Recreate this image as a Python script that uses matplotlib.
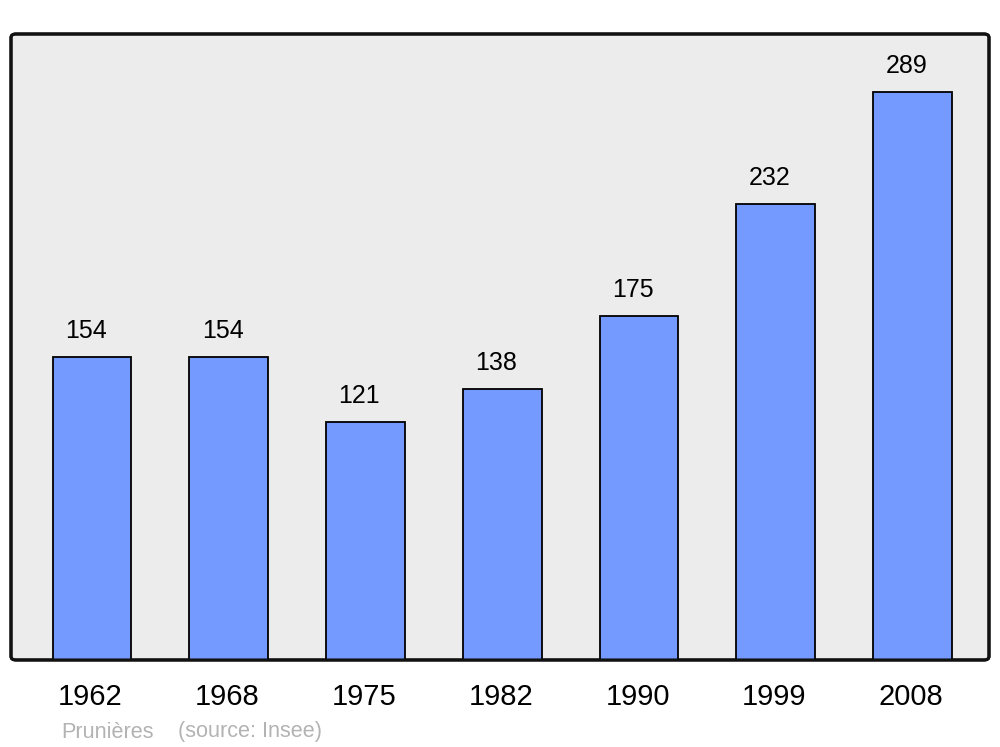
import matplotlib
matplotlib.use("Agg")
import matplotlib.pyplot as plt
from matplotlib.patches import FancyBboxPatch

years = ["1962", "1968", "1975", "1982", "1990", "1999", "2008"]
population = [154, 154, 121, 138, 175, 232, 289]
commune = "Prunières"
source = "(source: Insee)"

plt.rcParams['font.family'] = ['Liberation Sans', 'DejaVu Sans']

fig = plt.figure(figsize=(10, 7.47), dpi=100)
ax = fig.add_axes([0.011, 0.1165, 0.978, 0.838])
ax.set_facecolor('none')

x = list(range(len(years)))
ax.bar(x, population, width=0.575, color='#7499ff', edgecolor='black',
       linewidth=1.3, zorder=3)

for xi, v in zip(x, population):
    ax.text(xi - 0.045, v + 13.2, str(v), ha='center', va='center',
            fontsize=18, color='black', zorder=4)

ax.set_xlim(-0.592, 6.559)
ax.set_ylim(0, 318.6)
ax.set_xticks([xi - 0.01 for xi in x])
ax.set_xticklabels(years, fontsize=21)
ax.tick_params(axis='x', length=0, pad=16.5)
ax.set_yticks([])
for s in ax.spines.values():
    s.set_visible(False)

frame = FancyBboxPatch((0, 0), 1, 1, boxstyle="round,pad=0,rounding_size=0.005",
                       transform=ax.transAxes, facecolor='#ececec',
                       edgecolor='#111111', linewidth=2.2, zorder=0,
                       mutation_aspect=1.17, clip_on=False)
ax.add_patch(frame)
frame2 = FancyBboxPatch((0, 0), 1, 1, boxstyle="round,pad=0,rounding_size=0.005",
                        transform=ax.transAxes, facecolor='none',
                        edgecolor='#111111', linewidth=2.2, zorder=5,
                        mutation_aspect=1.17, clip_on=False)
ax.add_patch(frame2)

fig.text(0.061, 1 - 732 / 747, commune, ha='left', va='center',
         fontsize=15.6, color='#b3b3b3')
fig.text(0.178, 1 - 732 / 747, source, ha='left', va='center',
         fontsize=15.6, color='#b3b3b3')

fig.savefig('out.png', dpi=100)
